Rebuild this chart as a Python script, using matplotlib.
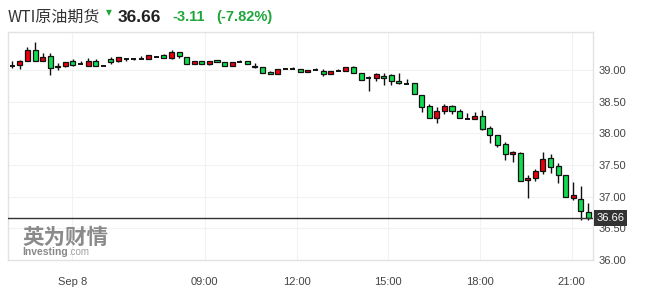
import matplotlib
matplotlib.use("Agg")
import numpy as np
import matplotlib.pyplot as plt
import matplotlib.transforms as mtransforms

# 15-minute candles, WTI crude futures (Sep 8)
opens = [39.07, 39.08, 39.15, 39.32, 39.15, 39.22, 39.04, 39.07, 39.15, 39.09,
         39.07, 39.15, 39.07, 39.17, 39.14, 39.18, 39.17, 39.17, 39.18, 39.21,
         39.23, 39.19, 39.28, 39.21, 39.10, 39.15, 39.10, 39.16, 39.12, 39.07,
         39.13, 39.14, 39.07, 39.04, 38.97, 38.94, 39.01, 39.01, 39.01, 38.97,
         39.00, 38.99, 38.93, 38.98, 38.98, 39.05, 38.96, 38.87, 38.87, 38.905,
         38.92, 38.82, 38.78, 38.79, 38.61, 38.43, 38.24, 38.35, 38.43, 38.35,
         38.23, 38.23, 38.27, 38.08, 37.97, 37.83, 37.675, 37.69, 37.265, 37.30,
         37.40, 37.61, 37.48, 37.34, 36.98, 36.96, 36.76]
highs = [39.15, 39.16, 39.36, 39.44, 39.27, 39.27, 39.11, 39.12, 39.17, 39.15,
         39.19, 39.18, 39.07, 39.20, 39.21, 39.18, 39.18, 39.22, 39.24, 39.22,
         39.25, 39.32, 39.29, 39.21, 39.15, 39.15, 39.15, 39.16, 39.12, 39.13,
         39.16, 39.14, 39.11, 39.04, 38.99, 39.01, 39.01, 39.04, 39.01, 39.00,
         39.03, 39.01, 38.99, 39.01, 39.04, 39.07, 38.96, 38.905, 38.96, 38.96,
         38.94, 38.96, 38.86, 38.79, 38.61, 38.47, 38.42, 38.47, 38.44, 38.38,
         38.32, 38.33, 38.37, 38.11, 37.97, 37.86, 37.72, 37.70, 37.34, 37.44,
         37.70, 37.67, 37.53, 37.34, 37.23, 37.17, 36.90]
lows = [39.03, 39.02, 39.15, 39.14, 39.15, 38.92, 39.00, 39.04, 39.07, 39.09,
        39.07, 39.06, 39.07, 39.10, 39.13, 39.15, 39.16, 39.17, 39.18, 39.20,
        39.19, 39.18, 39.19, 39.10, 39.10, 39.09, 39.08, 39.12, 39.07, 39.06,
        39.13, 39.09, 39.03, 38.96, 38.93, 38.94, 39.01, 39.01, 38.97, 38.97,
        39.00, 38.91, 38.93, 38.98, 38.98, 38.96, 38.84, 38.67, 38.83, 38.76,
        38.77, 38.78, 38.78, 38.62, 38.33, 38.24, 38.17, 38.30, 38.30, 38.24,
        38.23, 38.23, 38.05, 37.85, 37.79, 37.58, 37.54, 37.25, 36.98, 37.24,
        37.355, 37.38, 37.22, 36.99, 36.95, 36.63, 36.63]
closes = [39.07, 39.15, 39.32, 39.14, 39.20, 39.03, 39.07, 39.12, 39.08, 39.09,
          39.15, 39.07, 39.07, 39.13, 39.20, 39.18, 39.17, 39.17, 39.23, 39.21,
          39.19, 39.28, 39.22, 39.10, 39.15, 39.09, 39.15, 39.12, 39.07, 39.13,
          39.13, 39.09, 39.04, 38.96, 38.93, 39.01, 39.01, 39.01, 38.97, 39.00,
          39.00, 38.93, 38.99, 38.98, 39.04, 38.96, 38.84, 38.87, 38.93, 38.87,
          38.82, 38.79, 38.78, 38.62, 38.42, 38.24, 38.35, 38.43, 38.35, 38.24,
          38.23, 38.27, 38.07, 37.97, 37.81, 37.67, 37.71, 37.25, 37.30, 37.41,
          37.59, 37.47, 37.34, 37.00, 37.02, 36.78, 36.66]

last_price = 36.66
change = "-3.11"
change_pct = "(-7.82%)"
title = "WTI原油期货"

time_labels = ["Sep 8", "09:00", "12:00", "15:00", "18:00", "21:00"]
time_tick_idx = [7.9, 25.4, 37.5, 49.6, 61.7, 73.8]
price_ticks = [36.0, 36.5, 37.0, 37.5, 38.0, 38.5, 39.0]

UP = "#e8000c"
DOWN = "#0fdc4f"
TXT_GREEN = "#1fa63a"
W, H = 645, 293

fig = plt.figure(figsize=(W / 100, H / 100), dpi=100)
ax = fig.add_axes([8 / W, 1 - 260 / H, 585 / W, 228 / H])

o = np.array(opens)
h = np.array(highs)
l = np.array(lows)
c = np.array(closes)
x = np.arange(len(o))
up = c > o
dn = c < o
flat = c == o
bw = 0.66

ax.vlines(x, l, h, color="#111111", lw=1, zorder=2)
ax.bar(x[up], (c - o)[up], bottom=o[up], width=bw, color=UP,
       edgecolor="#111111", linewidth=0.9, zorder=3)
ax.bar(x[dn], (o - c)[dn], bottom=c[dn], width=bw, color=DOWN,
       edgecolor="#111111", linewidth=0.9, zorder=3)
ax.hlines(o[flat], x[flat] - bw / 2, x[flat] + bw / 2, color="#111111", lw=1.4, zorder=3)

ax.axhline(last_price, color="#333333", lw=1, zorder=4)

ax.set_xlim(-0.57, 76.6)
ax.set_ylim(36.0, 39.6)
ax.yaxis.tick_right()
ax.set_yticks(price_ticks)
ax.set_yticklabels([f"{v:.2f}" for v in price_ticks])
ax.set_xticks(time_tick_idx)
ax.set_xticklabels(time_labels)
ax.tick_params(axis="both", length=0, labelsize=8, colors="#444444")
ax.tick_params(axis="y", pad=4)
ax.tick_params(axis="x", pad=12)
for lab in ax.get_xticklabels() + ax.get_yticklabels():
    lab.set_family("Liberation Sans")
ax.grid(True, color="#f2f2f2", lw=0.8, zorder=0)
for s in ax.spines.values():
    s.set_color("#e2e2e2")
    s.set_linewidth(1)

# last price tag on the right axis
trans = mtransforms.blended_transform_factory(ax.transAxes, ax.transData)
ax.annotate(f"{last_price:.2f}", xy=(1.0, last_price), xycoords=trans,
            xytext=(2.5, 0), textcoords="offset points", ha="left", va="center",
            fontsize=8, color="white", family="Liberation Sans", annotation_clip=False,
            bbox=dict(boxstyle="square,pad=0.25", fc="#333333", ec="none"), zorder=10)

# header
fig.text(8 / W, 1 - 17 / H, title, fontsize=11.5, color="#333333",
         family=["Noto Sans CJK SC", "DejaVu Sans"], va="center")
fig.text(106 / W, 1 - 13 / H, "▼", fontsize=5.5, color=TXT_GREEN, va="center")
fig.text(118 / W, 1 - 17 / H, f"{last_price:.2f}", fontsize=12.5, fontweight="bold",
         color="#222222", family="Liberation Sans", va="center")
fig.text(172 / W, 1 - 17 / H, change, fontsize=10.5, fontweight="bold",
         color=TXT_GREEN, family="Liberation Sans", va="center")
fig.text(216 / W, 1 - 17 / H, change_pct, fontsize=10.5, fontweight="bold",
         color=TXT_GREEN, family="Liberation Sans", va="center")

# watermark
fig.text(22 / W, 1 - 237 / H, "英为财情", fontsize=15.5, fontweight="bold",
         color="#8a8a8a", family="Noto Sans CJK SC", va="center")
inv = fig.text(22 / W, 1 - 252 / H, "Investing", fontsize=7.5, fontweight="bold",
               color="#888888", family="Liberation Sans", va="center")
ax.annotate(".com", xy=(1, 0.5), xycoords=inv, xytext=(0.5, 0),
            textcoords="offset points", ha="left", va="center", fontsize=7,
            color="#a0a0a0", family="Liberation Sans", annotation_clip=False)

fig.savefig("out.png", dpi=100)
